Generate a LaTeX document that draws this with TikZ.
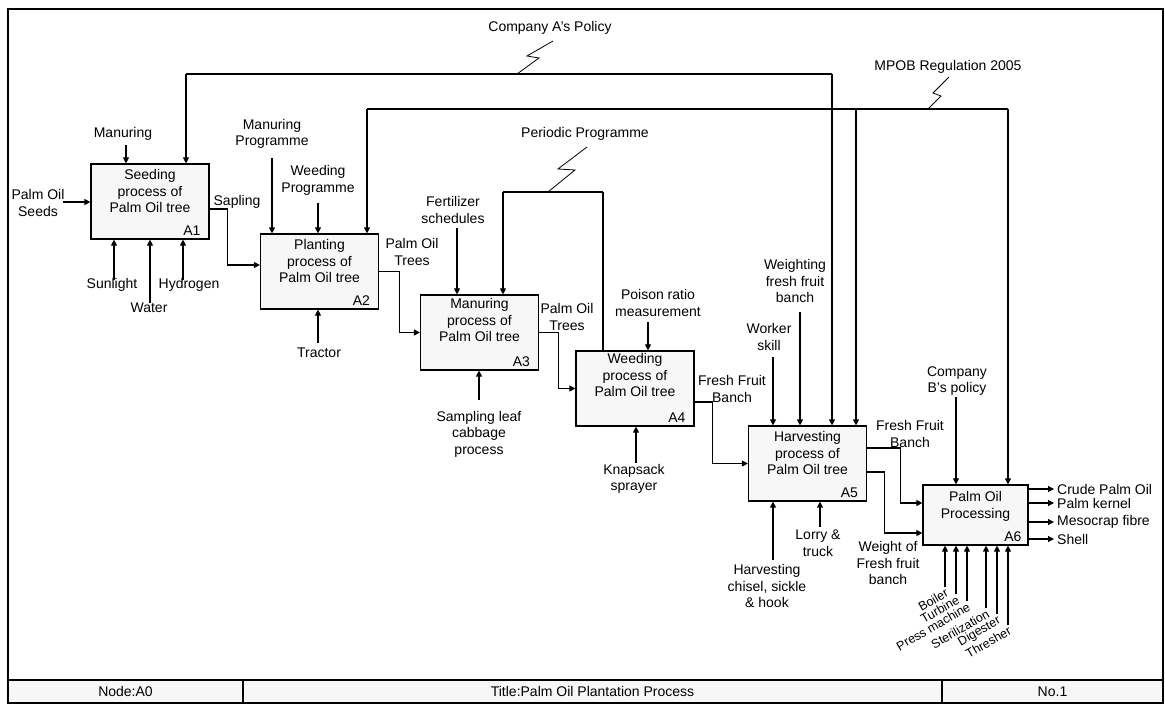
\documentclass[tikz,border=0pt]{standalone}
\usepackage{fontspec}
\setmainfont{Liberation Sans}
\usetikzlibrary{arrows.meta}

\newcommand\lblfont{\fontsize{14}{16.5}\selectfont}
\newcommand\rotfont{\fontsize{12.5}{14}\selectfont}

\tikzset{
  proc/.style={draw, line width=1.2pt, fill=gray!6, minimum width=118pt, minimum height=75pt, inner sep=0pt},
  ptext/.style={align=center, anchor=north, inner sep=0pt, font=\lblfont},
  pnum/.style={anchor=south east, inner xsep=9pt, inner ysep=4pt, font=\lblfont},
  lbl/.style={align=center, inner sep=0pt, font=\lblfont},
  outlbl/.style={anchor=west, inner sep=3pt, font=\lblfont},
  rlbl/.style={font=\rotfont, rotate=30, anchor=north east, inner sep=0.5pt},
  cell/.style={draw, line width=1.2pt, fill=gray!6, minimum height=23pt, inner sep=0pt, font=\lblfont},
  arr/.style={-{Triangle[length=6pt,width=6pt]}, line width=1.1pt},
  ln/.style={line width=1.1pt},
  zig/.style={line width=0.8pt},
}

\begin{document}
\begin{tikzpicture}[x=1pt,y=-1pt]
\useasboundingbox (0,0) rectangle (1165,704);

\draw[line width=1.3pt] (8,9) rectangle (1163,703);

\begin{scope}[every node/.style={cell}]
  \node[minimum width=235pt] (nodecell) at (125.5,691.5) {Node:A0};
  \node[minimum width=699pt] (titlecell) at (592.5,691.5) {Title:Palm Oil Plantation Process};
  \node[minimum width=221pt] (nocell) at (1052.5,691.5) {No.1};
\end{scope}

\begin{scope}[every node/.style={proc}]
  \node (a1) at (150,201.5) {};
  \node (a2) at (319.5,271.5) {};
  \node (a3) at (479.5,332.5) {};
  \node (a4) at (635,388.5) {};
  \node (a5) at (807.5,463.5) {};
  \node[minimum width=105pt, minimum height=60pt] (a6) at (975.5,515) {};
\end{scope}

\node[ptext] (a1-t) at ([yshift=-6pt]a1.north) {Seeding\\process of\\Palm Oil tree};
\node[ptext] (a2-t) at ([yshift=-6pt]a2.north) {Planting\\process of\\Palm Oil tree};
\node[ptext] (a3-t) at ([yshift=-4pt]a3.north) {Manuring\\process of\\Palm Oil tree};
\node[ptext] (a4-t) at ([yshift=-3pt]a4.north) {Weeding\\process of\\Palm Oil tree};
\node[ptext] (a5-t) at ([yshift=-6pt]a5.north) {Harvesting\\process of\\Palm Oil tree};
\node[ptext] (a6-t) at ([yshift=-7pt]a6.north) {Palm Oil\\Processing};
\node[pnum] (a1-n) at (a1.south east) {A1};
\node[pnum] (a2-n) at (a2.south east) {A2};
\node[pnum] (a3-n) at (a3.south east) {A3};
\node[pnum] (a4-n) at (a4.south east) {A4};
\node[pnum] (a5-n) at (a5.south east) {A5};
\node[pnum, inner xsep=7pt] (a6-n) at (a6.south east) {A6};

\begin{scope}[every node/.style={lbl}]
  \node (seeds) at (38,203) {Palm Oil\\Seeds};
  \node (manuring) at (123,134) {Manuring};
  \node (sunlight) at (112,285) {Sunlight};
  \node (water) at (149,308) {Water};
  \node (hydrogen) at (189,285) {Hydrogen};
  \node (sapling) at (237,202) {Sapling};
  \node (manprog) at (272,134) {Manuring\\Programme};
  \node (weedprog) at (318,180.5) {Weeding\\Programme};
  \node (tractor) at (319,353) {Tractor};
  \node (trees2) at (412,252) {Palm Oil\\Trees};
  \node (fert) at (453,210) {Fertilizer\\schedules};
  \node (compa) at (550,28) {Company A's Policy};
  \node (periodic) at (585,134) {Periodic Programme};
  \node (mpob) at (948,67) {MPOB Regulation 2005};
  \node (sampling) at (479,434) {Sampling leaf\\cabbage\\process};
  \node (trees3) at (567,317) {Palm Oil\\Trees};
  \node (poison) at (658,303) {Poison ratio\\measurement};
  \node (knapsack) at (634,479) {Knapsack\\sprayer};
  \node (ffb4) at (732,389) {Fresh Fruit\\Banch};
  \node (worker) at (769,337) {Worker\\skill};
  \node (weighting) at (795,281) {Weighting\\fresh fruit\\banch};
  \node (chisel) at (767,586) {Harvesting\\chisel, sickle\\\& hook};
  \node (lorry) at (818,543) {Lorry \&\\truck};
  \node (ffb5) at (910,434) {Fresh Fruit\\Banch};
  \node (weightof) at (888,563) {Weight of\\Fresh fruit\\banch};
  \node (compb) at (957,381) {Company\\B's policy};
\end{scope}

\node[outlbl] (crude) at (1054,489) {Crude Palm Oil};
\node[outlbl] (kernel) at (1054,503) {Palm kernel};
\node[outlbl] (fibre) at (1054,522) {Mesocrap fibre};
\node[outlbl] (shell) at (1054,539) {Shell};

% controls
\coordinate (c-man) at (126,145);
\coordinate (c-mp) at (272,158);
\coordinate (c-wp) at (318,203);
\coordinate (c-fert) at (457,228);
\coordinate (c-poi) at (648,322);
\coordinate (c-wk) at (773,357);
\coordinate (c-wt) at (800,312);
\coordinate (c-cb) at (956,397);
\coordinate (ca-l) at (186,74);
\coordinate (ca-r) at (832,74);
\coordinate (mp-l) at (367,109);
\coordinate (mp-m) at (856,109);
\coordinate (mp-r) at (1008,109);
\coordinate (pp-l) at (503,192);
\coordinate (pp-r) at (603,192);

\draw[arr] (c-man) -- (c-man |- a1.north);
\draw[arr] (c-mp) -- (c-mp |- a2.north);
\draw[arr] (c-wp) -- (c-wp |- a2.north);
\draw[arr] (c-fert) -- (c-fert |- a3.north);
\draw[arr] (c-poi) -- (c-poi |- a4.north);
\draw[arr] (c-wk) -- (c-wk |- a5.north);
\draw[arr] (c-wt) -- (c-wt |- a5.north);
\draw[arr] (c-cb) -- (c-cb |- a6.north);

\draw[ln] (ca-l) -- (ca-r);
\draw[arr] (ca-l) -- (ca-l |- a1.north);
\draw[arr] (ca-r) -- (ca-r |- a5.north);

\draw[ln] (mp-l) -- (mp-r);
\draw[arr] (mp-l) -- (mp-l |- a2.north);
\draw[arr] (mp-m) -- (mp-m |- a5.north);
\draw[arr] (mp-r) -- (mp-r |- a6.north);

\draw[ln] (pp-l) -- (pp-r);
\draw[arr] (pp-l) -- (pp-l |- a3.north);
\draw[ln] (pp-r) -- (pp-r |- a4.north);

\coordinate (z-ca) at (517,74);
\coordinate (z-mp) at (928,109);
\coordinate (z-pp) at (548,192);
\draw[zig] (z-ca) -- ++(22,-16) -- ++(-12,-2) -- ++(26,-15);
\draw[zig] (z-mp) -- ++(13,-13) -- ++(-8,-3) -- ++(16,-16);
\draw[zig] (z-pp) -- ++(27,-22) -- ++(-17,-1) -- ++(29,-22);

% inputs and outputs
\coordinate (i-seed) at (63,202);
\draw[arr] (i-seed) -- (i-seed -| a1.west);
\draw[arr] ([yshift=-7.5pt]a1.east) -- ++(18,0) |- ([yshift=6.5pt]a2.west);
\draw[arr] (a2.east) -- ++(20,0) |- (a3.west);
\draw[arr] (a3.east) -- ++(19,0) |- (a4.west);
\draw[arr] ([yshift=-13.5pt]a4.east) -- ++(18,0) |- (a5.west);
\draw[arr] ([yshift=15.5pt]a5.east) -- ++(33,0) |- ([yshift=12pt]a6.west);
\draw[arr] ([yshift=-8.5pt]a5.east) -- ++(17,0) |- ([yshift=-18pt]a6.west);
\draw[arr] (a6.east |- crude.west) -- (crude.west);
\draw[arr] (a6.east |- kernel.west) -- (kernel.west);
\draw[arr] (a6.east |- fibre.west) -- (fibre.west);
\draw[arr] (a6.east |- shell.west) -- (shell.west);

% mechanisms
\coordinate (m-sun) at (114,280);
\coordinate (m-wat) at (150,303);
\coordinate (m-hyd) at (183,280);
\coordinate (m-tra) at (318,343);
\coordinate (m-sam) at (479,400);
\coordinate (m-kna) at (636,463);
\coordinate (m-chi) at (773,560);
\coordinate (m-lor) at (820,527);
\coordinate (m-boi) at (945,587);
\coordinate (m-tur) at (956,594);
\coordinate (m-pre) at (967,601);
\coordinate (m-ste) at (986,608);
\coordinate (m-dig) at (997,614);
\coordinate (m-thr) at (1008,625);

\draw[arr] (m-sun) -- (m-sun |- a1.south);
\draw[arr] (m-wat) -- (m-wat |- a1.south);
\draw[arr] (m-hyd) -- (m-hyd |- a1.south);
\draw[arr] (m-tra) -- (m-tra |- a2.south);
\draw[arr] (m-sam) -- (m-sam |- a3.south);
\draw[arr] (m-kna) -- (m-kna |- a4.south);
\draw[arr] (m-chi) -- (m-chi |- a5.south);
\draw[arr] (m-lor) -- (m-lor |- a5.south);
\draw[arr] (m-boi) -- (m-boi |- a6.south);
\draw[arr] (m-tur) -- (m-tur |- a6.south);
\draw[arr] (m-pre) -- (m-pre |- a6.south);
\draw[arr] (m-ste) -- (m-ste |- a6.south);
\draw[arr] (m-dig) -- (m-dig |- a6.south);
\draw[arr] (m-thr) -- (m-thr |- a6.south);

\node[rlbl] (boiler) at (m-boi) {Boiler};
\node[rlbl] (turbine) at (m-tur) {Turbine};
\node[rlbl] (press) at (m-pre) {Press machine};
\node[rlbl] (steril) at (m-ste) {Sterilization};
\node[rlbl] (digester) at (m-dig) {Digester};
\node[rlbl] (thresher) at (m-thr) {Thresher};

\end{tikzpicture}
\end{document}
